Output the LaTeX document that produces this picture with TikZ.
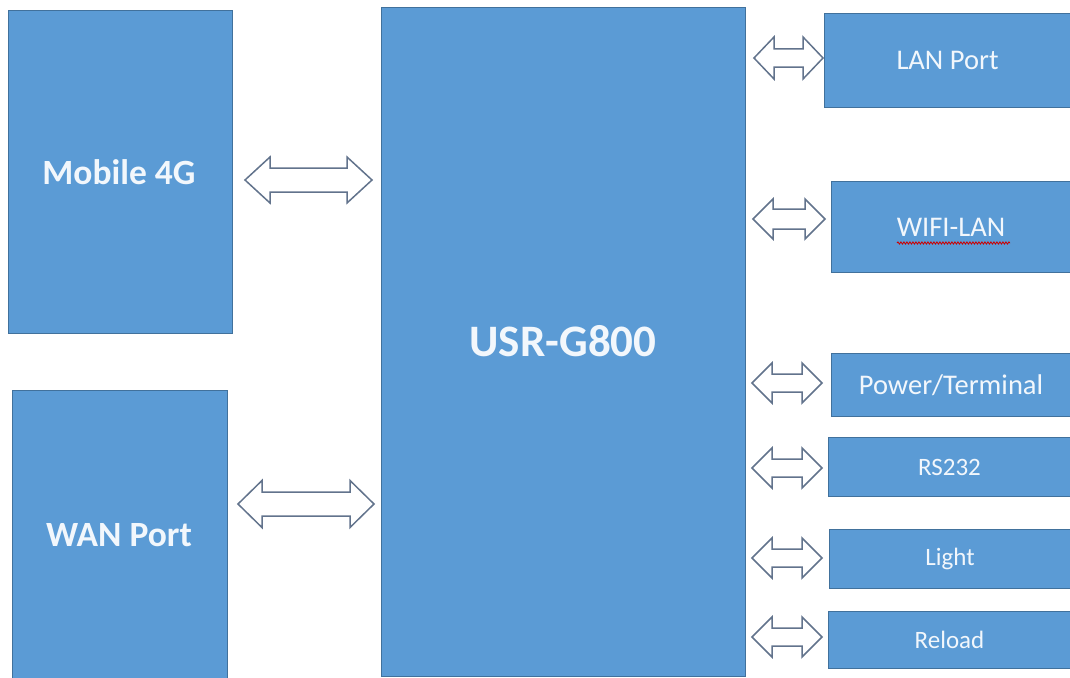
\documentclass[tikz,border=0pt]{standalone}
\usepackage{fontspec}
\setmainfont{Carlito}
\usetikzlibrary{decorations.pathmorphing}
\definecolor{boxfill}{HTML}{5B9BD5}
\definecolor{boxline}{HTML}{41719C}
\definecolor{arrline}{HTML}{62738C}
\definecolor{txt}{HTML}{F2F7FC}
\tikzset{
  blk/.style={draw=boxline, line width=1pt, fill=boxfill, anchor=north west, inner sep=0pt, text=txt},
  bigtxt/.style={font=\bfseries\fontsize{35.5}{42}\selectfont},
  midtxt/.style={font=\fontsize{28.5}{34}\selectfont},
  smalltxt/.style={font=\fontsize{25}{30}\selectfont},
  blkarrow/.style={draw=arrline, line width=1.5pt, fill=white, line join=miter},
}
% #1 left tip x, #2 right tip x, #3 centre y, #4 shaft half, #5 head half, #6 head length
\newcommand\dblarr[6]{%
  \draw[blkarrow] (#1,#3) -- (#1+#6,#3-#5) -- (#1+#6,#3-#4) -- (#2-#6,#3-#4) -- (#2-#6,#3-#5)
    -- (#2,#3) -- (#2-#6,#3+#5) -- (#2-#6,#3+#4) -- (#1+#6,#3+#4) -- (#1+#6,#3+#5) -- cycle;}
\begin{document}
\begin{tikzpicture}[x=1pt,y=-1pt]
\useasboundingbox (0,0) rectangle (1070,677);
\fill[white] (0,0) rectangle (1070,677);
% left boxes
\node[blk, bigtxt, minimum width=224pt, minimum height=323pt] (mob) at (8,10) {};
\node[bigtxt, text=txt] (mobt) at (119,172) {Mobile 4G};
\node[blk, bigtxt, minimum width=215pt, minimum height=290pt] (wan) at (12,390) {};
\node[bigtxt, text=txt] (want) at (119,535) {WAN Port};
% main box
\node[blk, minimum width=364pt, minimum height=669pt] (usr) at (381,7) {};
\node[text=txt, font=\bfseries\fontsize{45}{52}\selectfont] (usrt) at (563,341) {USR-G800};
% right boxes
\node[blk, midtxt, minimum width=246pt, minimum height=94pt] (lan) at (824,13) {LAN Port};
\node[blk, midtxt, minimum width=239pt, minimum height=91pt] (wifi) at (831,181) {WIFI-LAN};
\node[blk, midtxt, minimum width=239pt, minimum height=63pt] (pwr) at (831,353) {Power/Terminal};
\node[blk, smalltxt, minimum width=242pt, minimum height=59pt] (rs) at (828,437) {RS232};
\node[blk, smalltxt, minimum width=241pt, minimum height=59pt] (light) at (829,529) {Light};
\node[blk, smalltxt, minimum width=242pt, minimum height=57pt] (reload) at (828,611) {Reload};
% spell-check underline
\draw[red!80!black, line width=0.8pt, decorate, decoration={snake, amplitude=1.1pt, segment length=3pt}]
  (897,243) -- (1010,243);
% arrows
\dblarr{245}{372}{180}{12}{23}{25}
\dblarr{238}{374}{504}{12}{23.5}{24}
\dblarr{754}{823}{58}{9}{21}{20}
\dblarr{753}{825}{219}{10}{20}{20}
\dblarr{752}{822}{383}{9}{20}{20}
\dblarr{752}{822}{468}{9}{20}{20}
\dblarr{752}{822}{558}{9}{20}{20}
\dblarr{752}{822}{637}{9}{20}{20}
\end{tikzpicture}
\end{document}
